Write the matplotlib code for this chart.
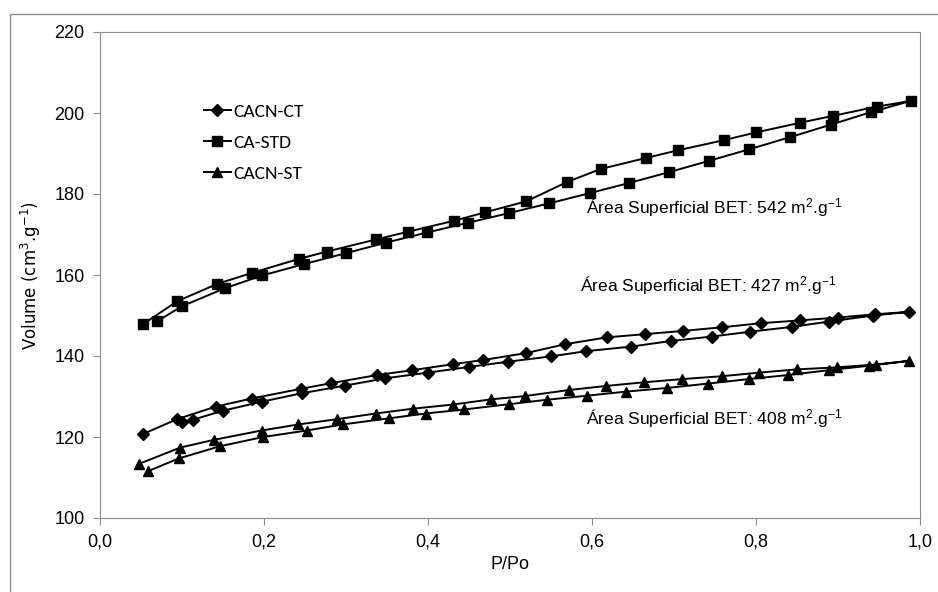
import matplotlib
matplotlib.use("Agg")
import matplotlib.pyplot as plt
from matplotlib.patches import Rectangle

plt.rcParams['font.family'] = ['Liberation Sans', 'DejaVu Sans']
plt.rcParams['mathtext.fontset'] = 'custom'
plt.rcParams['mathtext.rm'] = 'Liberation Sans'
plt.rcParams['mathtext.it'] = 'Liberation Sans'
plt.rcParams['mathtext.default'] = 'regular'

# CA-STD (squares): adsorption then desorption
std_x = [0.070, 0.100, 0.152, 0.198, 0.249, 0.300, 0.349, 0.399, 0.449, 0.499, 0.548,
         0.597, 0.645, 0.694, 0.743, 0.791, 0.841, 0.891, 0.940, 0.989,
         0.948, 0.894, 0.854, 0.800, 0.761, 0.705, 0.666, 0.611, 0.570, 0.520,
         0.470, 0.432, 0.376, 0.337, 0.277, 0.243, 0.185, 0.143, 0.094, 0.052]
std_y = [148.6, 152.3, 156.7, 159.9, 162.7, 165.4, 168.0, 170.5, 172.9, 175.3, 177.7,
         180.2, 182.7, 185.4, 188.2, 191.0, 194.0, 197.1, 200.2, 203.0,
         201.6, 199.3, 197.6, 195.2, 193.3, 190.8, 188.9, 186.2, 183.0, 178.2,
         175.5, 173.4, 170.7, 168.8, 165.8, 164.0, 160.5, 157.8, 153.5, 147.8]

# CACN-CT (diamonds)
ct_x = [0.100, 0.114, 0.150, 0.197, 0.246, 0.299, 0.348, 0.400, 0.450, 0.498, 0.550,
        0.593, 0.647, 0.696, 0.746, 0.793, 0.844, 0.889, 0.943, 0.987,
        0.945, 0.900, 0.854, 0.806, 0.759, 0.711, 0.665, 0.618, 0.567, 0.519,
        0.467, 0.431, 0.381, 0.338, 0.282, 0.245, 0.185, 0.141, 0.094, 0.052]
ct_y = [123.6, 124.3, 126.5, 128.7, 130.8, 132.7, 134.5, 135.9, 137.3, 138.6, 139.9,
        141.2, 142.3, 143.7, 144.8, 146.0, 147.2, 148.5, 150.0, 150.9,
        150.3, 149.5, 148.8, 148.1, 147.1, 146.2, 145.4, 144.6, 142.9, 140.7,
        139.0, 138.0, 136.5, 135.3, 133.3, 131.9, 129.5, 127.5, 124.4, 120.7]

# CACN-ST (triangles)
st_x = [0.059, 0.096, 0.146, 0.199, 0.252, 0.296, 0.352, 0.397, 0.444, 0.499, 0.545,
        0.594, 0.641, 0.691, 0.742, 0.791, 0.839, 0.889, 0.938, 0.987,
        0.946, 0.899, 0.850, 0.804, 0.758, 0.710, 0.663, 0.617, 0.572, 0.518,
        0.477, 0.430, 0.382, 0.336, 0.289, 0.242, 0.197, 0.139, 0.098, 0.048]
st_y = [111.6, 114.7, 117.7, 120.0, 121.6, 123.1, 124.6, 125.8, 126.8, 128.1, 129.2,
        130.2, 131.2, 132.1, 133.2, 134.3, 135.3, 136.5, 137.6, 138.8,
        137.9, 137.2, 136.7, 135.9, 135.0, 134.3, 133.5, 132.6, 131.6, 130.1,
        129.3, 128.0, 127.0, 125.8, 124.4, 123.1, 121.6, 119.3, 117.4, 113.4]

x_ticks = [0.0, 0.2, 0.4, 0.6, 0.8, 1.0]
x_labels = ['0,0', '0,2', '0,4', '0,6', '0,8', '1,0']
y_ticks = [100, 120, 140, 160, 180, 200, 220]

fig = plt.figure(figsize=(9.38, 5.92), dpi=100)
ax = fig.add_axes([100/938, 1 - 518/592, 820/938, 486/592])

# chart-area border
fig.patches.append(Rectangle((10/938, -0.05), 1.0, 1 - 14/592 + 0.05, transform=fig.transFigure,
                             fill=False, edgecolor='#8c8c8c', lw=1.0))

ax.plot(ct_x, ct_y, color='black', lw=1.4, marker='D', ms=6, label='CACN-CT')
ax.plot(std_x, std_y, color='black', lw=1.4, marker='s', ms=7, label='CA-STD')
ax.plot(st_x, st_y, color='black', lw=1.4, marker='^', ms=7.5, label='CACN-ST')

ax.set_xlim(0, 1.0)
ax.set_ylim(100, 220)
ax.set_xticks(x_ticks)
ax.set_xticklabels(x_labels)
ax.set_yticks(y_ticks)
for s in ax.spines.values():
    s.set_color('#8c8c8c')
ax.tick_params(direction='out', length=5, color='#8c8c8c', labelsize=13, pad=6)

ax.set_xlabel('P/Po', fontsize=13, labelpad=4)
ax.set_ylabel('Volume (cm$^{3}$.g$^{-1}$)', fontsize=12, family=['DejaVu Sans'], labelpad=8)

note_kw = dict(fontsize=12.5, va='center')
ax.text(0.593, 176.5, 'Área Superficial BET: 542 m$^{2}$.g$^{-1}$', **note_kw)
ax.text(0.585, 157.3, 'Área Superficial BET: 427 m$^{2}$.g$^{-1}$', **note_kw)
ax.text(0.593, 124.5, 'Área Superficial BET: 408 m$^{2}$.g$^{-1}$', **note_kw)

leg = ax.legend(loc='upper left', bbox_to_anchor=(0.105, 0.89), frameon=False,
                handlelength=1.4, handletextpad=0.15, labelspacing=0.75,
                prop={'family': ['Carlito', 'Liberation Sans'], 'size': 14})

fig.savefig('out.png', dpi=100)
